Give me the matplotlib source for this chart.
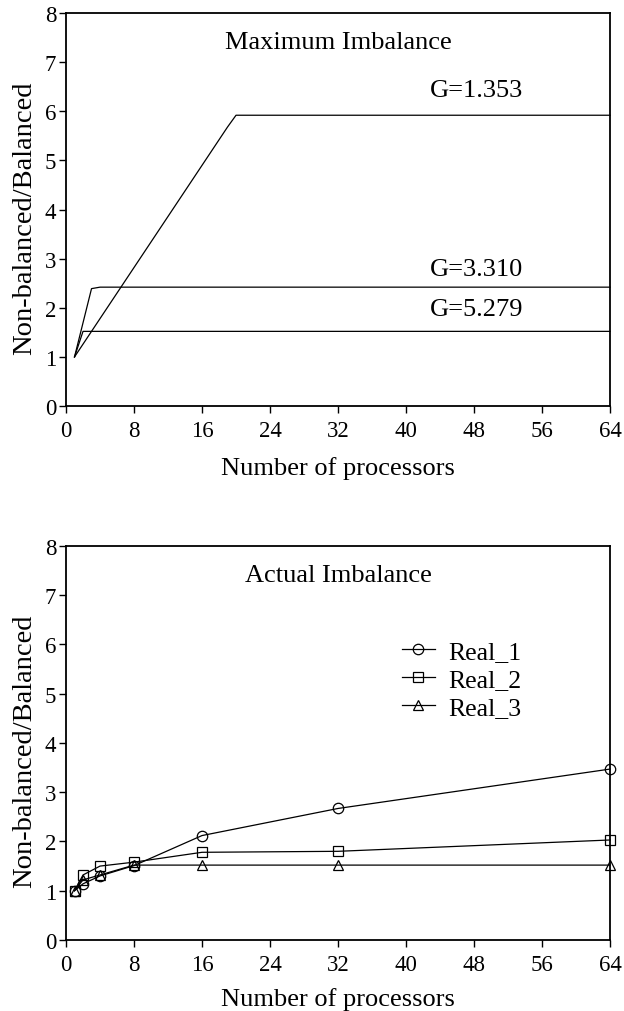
import matplotlib
matplotlib.use("Agg")
import matplotlib.pyplot as plt

plt.rcParams['font.family'] = ['Liberation Serif', 'DejaVu Serif']

# Maximum imbalance curves
g1_x = [1, 19, 20, 64]
g1_y = [1.0, 5.68, 5.92, 5.92]
g2_x = [1, 3, 4, 64]
g2_y = [1.0, 2.39, 2.42, 2.42]
g3_x = [1, 2, 64]
g3_y = [1.0, 1.52, 1.52]
g_labels = ["G=1.353", "G=3.310", "G=5.279"]

# Actual imbalance
procs = [1, 2, 4, 8, 16, 32, 64]
real_1 = [1.0, 1.14, 1.30, 1.51, 2.12, 2.67, 3.47]
real_2 = [1.0, 1.32, 1.50, 1.58, 1.78, 1.80, 2.03]
real_3 = [1.0, 1.22, 1.32, 1.52, 1.52, 1.52, 1.52]

fig = plt.figure(figsize=(6.24, 10.12), dpi=100)
ax1 = fig.add_axes([0.1058, 0.5978, 0.8718, 0.3883])
ax2 = fig.add_axes([0.1058, 0.0702, 0.8718, 0.3893])

for ax, lp in ((ax1, 11), (ax2, 8.5)):
    ax.set_xlim(0, 64)
    ax.set_ylim(0, 8)
    ax.set_xticks(range(0, 65, 8))
    ax.set_yticks(range(0, 9))
    ax.tick_params(direction='out', length=5, width=1, labelsize=16.5)
    ax.tick_params(axis='x', pad=5)
    ax.tick_params(axis='y', pad=2)
    for s in ax.spines.values():
        s.set_linewidth(1.3)
    ax.set_xlabel("Number of processors", fontsize=19, labelpad=lp)
    ax.set_ylabel("Non-balanced/Balanced", fontsize=20.5)
    ax.yaxis.set_label_coords(-0.053, 0.481)

# A. maximum imbalance
ax1.plot(g1_x, g1_y, color='black', lw=0.9, clip_on=False)
ax1.plot(g2_x, g2_y, color='black', lw=0.9, clip_on=False)
ax1.plot(g3_x, g3_y, color='black', lw=0.9, clip_on=False)
ax1.text(32, 7.42, "Maximum Imbalance", ha='center', va='center', fontsize=19)
ax1.text(48.3, 6.44, g_labels[0], ha='center', va='center', fontsize=19)
ax1.text(48.3, 2.79, g_labels[1], ha='center', va='center', fontsize=19)
ax1.text(48.3, 1.98, g_labels[2], ha='center', va='center', fontsize=19)

# B. actual imbalance
mk = dict(color='black', lw=0.9, mfc='none', mec='black', mew=0.9, ms=7.5, clip_on=False)
ax2.plot(procs, real_1, marker='o', label="Real_1", **mk)
ax2.plot(procs, real_2, marker='s', label="Real_2", **mk)
ax2.plot(procs, real_3, marker='^', label="Real_3", **mk)
ax2.text(32, 7.42, "Actual Imbalance", ha='center', va='center', fontsize=19)
ax2.legend(loc='center left', bbox_to_anchor=(0.617, 0.662), frameon=False,
           fontsize=18.5, handlelength=1.3, handletextpad=0.53, labelspacing=0.2,
           borderpad=0, borderaxespad=0)

fig.savefig("out.png", dpi=100)
